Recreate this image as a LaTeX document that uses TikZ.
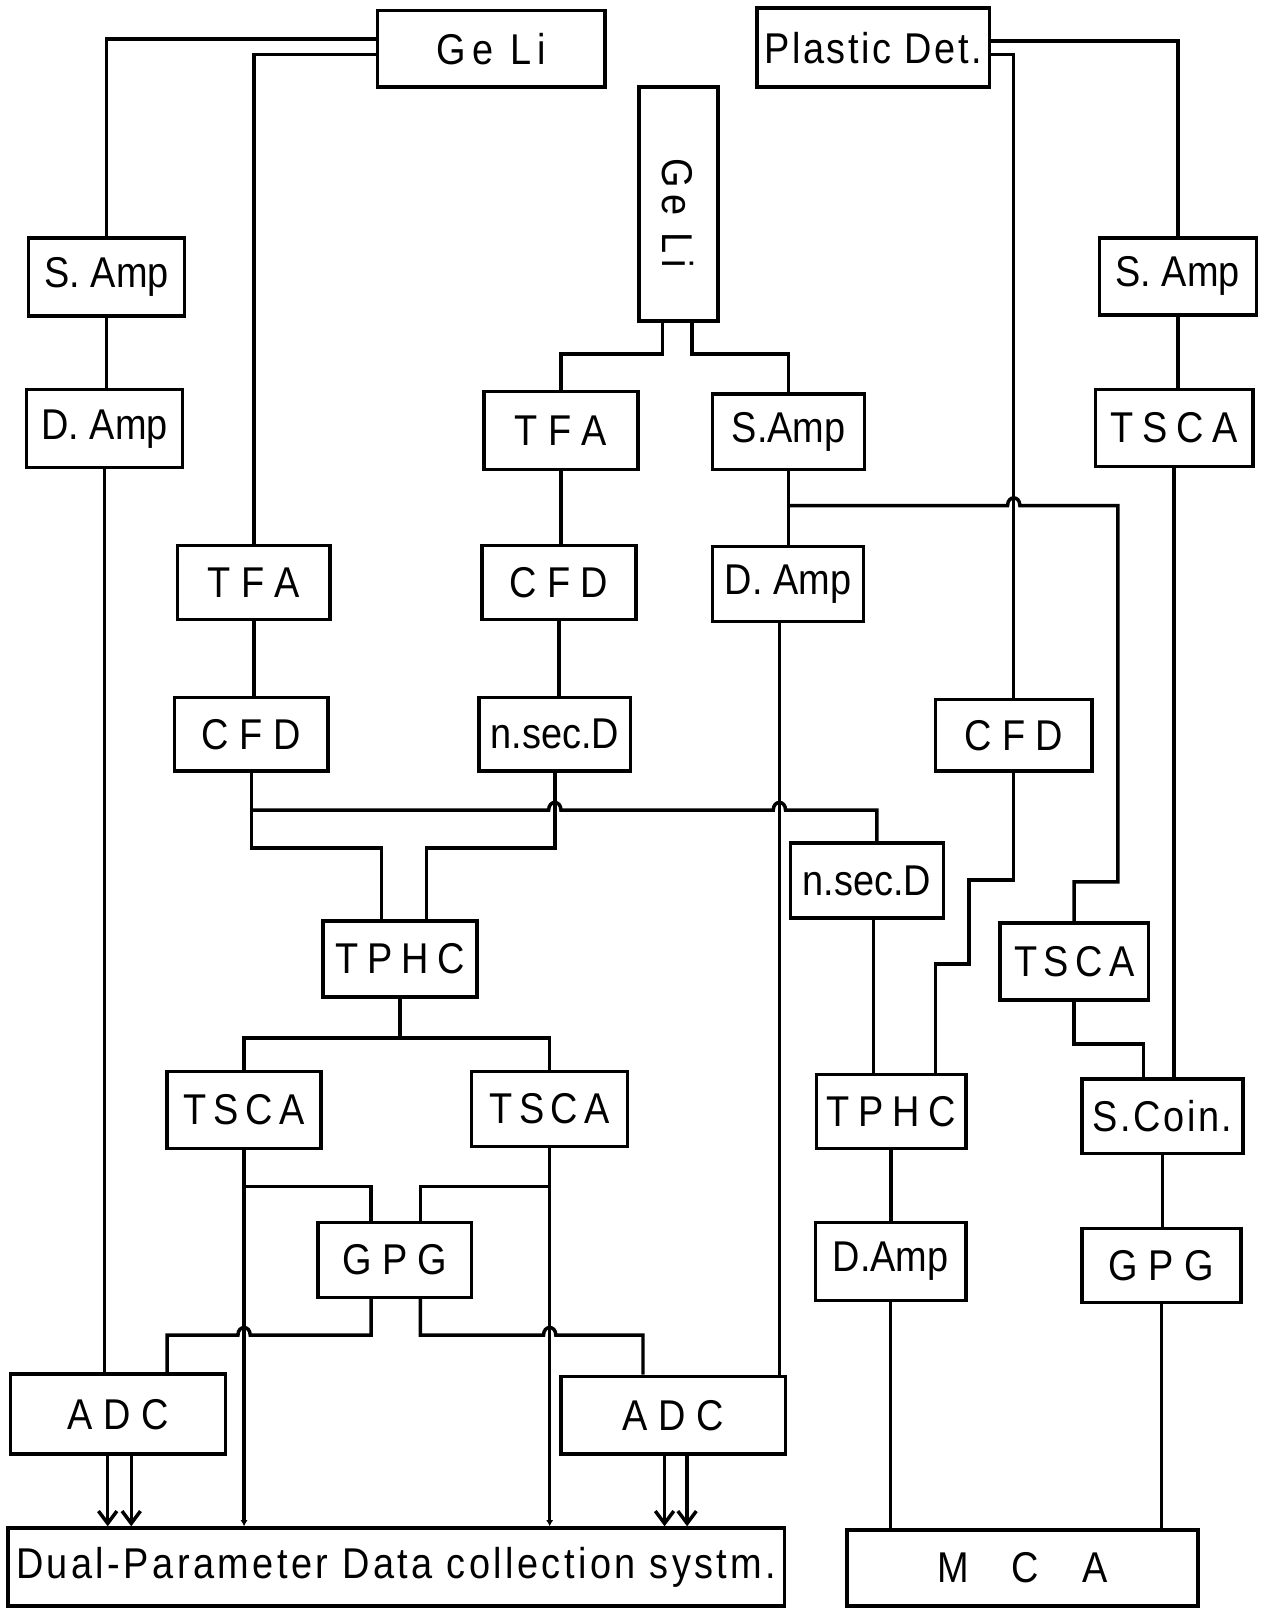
\documentclass[tikz,border=0pt]{standalone}
\usepackage{fontspec}
\setmainfont{Liberation Sans}[FakeStretch=0.88]
\newfontfamily\lsfa{Liberation Sans}[FakeStretch=0.88,LetterSpace=15]
\newfontfamily\lsfb{Liberation Sans}[FakeStretch=0.88,LetterSpace=20]
\newfontfamily\lsfc{Liberation Sans}[FakeStretch=0.88,LetterSpace=6]
\newfontfamily\lsfd{Liberation Sans}[FakeStretch=0.88,LetterSpace=8]
\usetikzlibrary{arrows.meta}
\begin{document}
\begin{tikzpicture}[x=1pt,y=-1pt,
  box/.style={draw,line width=3.4pt,inner sep=0pt,font=\fontsize{42}{48}\selectfont},
  wire/.style={line width=3.4pt},
  bigarrow/.style={wire,-{Straight Barb[length=12pt,width=18pt]}},
  dotend/.style={wire,-{Latex[length=6pt,width=7pt]}}]
\fill[white] (0,0) rectangle (1233,1568);
\useasboundingbox (0,0) rectangle (1233,1568);

% nodes
\node[box,minimum width=222pt,minimum height=75pt] (gelit) at (479,47.5) {\lsfa Ge Li};
\node[box,minimum width=227pt,minimum height=77pt] (plastic) at (851.5,46.5) {\lsfc Plastic Det.};
\node[box,minimum width=77pt,minimum height=228pt] (geliv) at (661.5,199) {};
\node[rotate=-90,font=\fontsize{42}{48}\selectfont\lsfa] (gelivtext) at (661.5,208) {Ge Li};
\node[box,minimum width=152pt,minimum height=76pt] (sampL) at (104,270) {S. Amp};
\node[box,minimum width=153pt,minimum height=75pt] (sampR) at (1148.5,269.5) {S. Amp};
\node[box,minimum width=152pt,minimum height=76pt] (dampL) at (102,418) {D. Amp};
\node[box,minimum width=150pt,minimum height=76pt] (tfaM) at (547,420) {T F A};
\node[box,minimum width=148pt,minimum height=74pt] (sampM) at (769,421) {S.Amp};
\node[box,minimum width=154pt,minimum height=75pt] (tscaA) at (1145,417.5) {\lsfb TSCA};
\node[box,minimum width=149pt,minimum height=72pt] (tfaL) at (247.5,568) {T F A};
\node[box,minimum width=150pt,minimum height=72pt] (cfdM) at (545,568) {C F D};
\node[box,minimum width=147pt,minimum height=73pt] (dampM) at (768.5,569.5) {D. Amp};
\node[box,minimum width=150pt,minimum height=72pt] (cfdL) at (245,716) {C F D};
\node[box,minimum width=148pt,minimum height=72pt] (nsecM) at (541,716) {n.sec.D};
\node[box,minimum width=153pt,minimum height=70pt] (cfdR) at (988.5,717) {C F D};
\node[box,minimum width=149pt,minimum height=73pt] (nsecR) at (845.5,858.5) {n.sec.D};
\node[box,minimum width=150pt,minimum height=74pt] (tphcL) at (390,935) {\lsfb TPHC};
\node[box,minimum width=145pt,minimum height=75pt] (tscaB) at (1047.5,937.5) {\lsfa TSCA};
\node[box,minimum width=150pt,minimum height=75pt] (tscaC) at (238,1082.5) {\lsfa TSCA};
\node[box,minimum width=152pt,minimum height=73pt] (tscaD) at (536,1081.5) {\lsfa TSCA};
\node[box,minimum width=146pt,minimum height=72pt] (tphcR) at (869,1084) {\lsfb TPHC};
\node[box,minimum width=157pt,minimum height=73pt] (scoin) at (1133.5,1088.5) {\lsfc S.Coin.};
\node[box,minimum width=150pt,minimum height=73pt] (gpgL) at (385,1228.5) {G P G};
\node[box,minimum width=147pt,minimum height=76pt] (dampR) at (868.5,1230) {D.Amp};
\node[box,minimum width=155pt,minimum height=72pt] (gpgR) at (1132.5,1234) {G P G};
\node[box,minimum width=210pt,minimum height=78pt] (adcL) at (115,1379) {A D C};
\node[box,minimum width=219pt,minimum height=76pt] (adcR) at (656.5,1380) {A D C};
\node[box,minimum width=757pt,minimum height=76pt] (dual) at (386.5,1528) {\lsfd Dual-Parameter Data collection systm.};
\node[box,minimum width=342pt,minimum height=74pt] (mca) at (997,1529) {M\quad C\quad A};

% left Ge Li
\draw[wire] ([yshift=9.5pt]gelit.west) -| (sampL.north);
\draw[wire] ([yshift=-5.5pt]gelit.west) -| (tfaL.north);
\draw[wire] (sampL.south) -- (dampL.north -| sampL.south);
\draw[wire] (dampL.south) -- (adcL.north -| dampL.south);
\draw[wire] (tfaL.south) -- (cfdL.north -| tfaL.south);

% vertical Ge Li
\draw[wire] ([xshift=-15.5pt]geliv.south) -- (646,345) -| (tfaM.north);
\draw[wire] ([xshift=13.5pt]geliv.south) -- (675,345) -| (sampM.north);
\draw[wire] (tfaM.south) -- (cfdM.north -| tfaM.south);
\draw[wire] (cfdM.south) -- (nsecM.north -| cfdM.south);
\draw[wire] (sampM.south) -- (dampM.north -| sampM.south);

% timing bus
\draw[wire] (cfdL.south) -- (245,827) -| ([xshift=-18pt]tphcL.north);
\draw[wire] (nsecM.south) -- (541,827) -| ([xshift=26pt]tphcL.north);
\draw[wire] (245,790) -- (535,790) .. controls (535,780) and (547,780) .. (547,790)
  -- (754,790) .. controls (754,780) and (766,780) .. (766,790) -| ([xshift=9.5pt]nsecR.north);
\draw[wire] ([xshift=-8.5pt]dampM.south) -- ([xshift=103.5pt]adcR.north);

% S.Amp middle to TSCA right
\draw[wire] (769,493) -- (982.5,493) .. controls (982.5,483) and (994.5,483) .. (994.5,493)
  -- (1090,493) -- (1090,860) -| (tscaB.north);

% plastic detector
\draw[wire] ([yshift=6.5pt]plastic.east) -| (sampR.north);
\draw[wire] ([yshift=-6.5pt]plastic.east) -| (cfdR.north);
\draw[wire] (sampR.south) -- (tscaA.north -| sampR.south);
\draw[wire] (tscaA.south) -- (scoin.north -| tscaA.south);
\draw[wire] (cfdR.south) -- (988.5,858) -- (945,858) -- (945,940) -- (912,940) -- ([xshift=43pt]tphcR.north);
\draw[wire] ([xshift=6.5pt]nsecR.south) -- ([xshift=-17pt]tphcR.north);
\draw[wire] (tscaB.south) -- (1047.5,1018) -| ([xshift=-18.5pt]scoin.north);
\draw[wire] (tphcR.south) -- (dampR.north -| tphcR.south);
\draw[wire] (dampR.south) -- (mca.north -| dampR.south);
\draw[wire] (scoin.south) -- (gpgR.north -| scoin.south);
\draw[wire] (gpgR.south) -- (mca.north -| gpgR.south);

% TPHC left branch
\draw[wire] (tscaC.north) -- (238,1012) -- (536,1012) -- (tscaD.north);
\draw[wire] (tphcL.south) -- (390,1012);
\draw[dotend] (tscaC.south) -- (dual.north -| tscaC.south);
\draw[dotend] (tscaD.south) -- (dual.north -| tscaD.south);
\draw[wire] (238,1157) -| ([xshift=-23pt]gpgL.north);
\draw[wire] (536,1157) -| ([xshift=25pt]gpgL.north);
\draw[wire] ([xshift=-23pt]gpgL.south) -- (362,1302) -- (244,1302)
  .. controls (244,1292) and (232,1292) .. (232,1302) -- (163,1302) -- ([xshift=48pt]adcL.north);
\draw[wire] ([xshift=25pt]gpgL.south) -- (410,1302) -- (530,1302)
  .. controls (530,1292) and (542,1292) .. (542,1302) -- (627,1302) -- ([xshift=-29.5pt]adcR.north);

% ADC outputs
\draw[bigarrow] ([xshift=-10pt]adcL.south) -- ([xshift=-281.5pt]dual.north);
\draw[bigarrow] ([xshift=13pt]adcL.south) -- ([xshift=-258.5pt]dual.north);
\draw[bigarrow] ([xshift=-8.5pt]adcR.south) -- ([xshift=261.5pt]dual.north);
\draw[bigarrow] ([xshift=13.5pt]adcR.south) -- ([xshift=283.5pt]dual.north);
\end{tikzpicture}
\end{document}
